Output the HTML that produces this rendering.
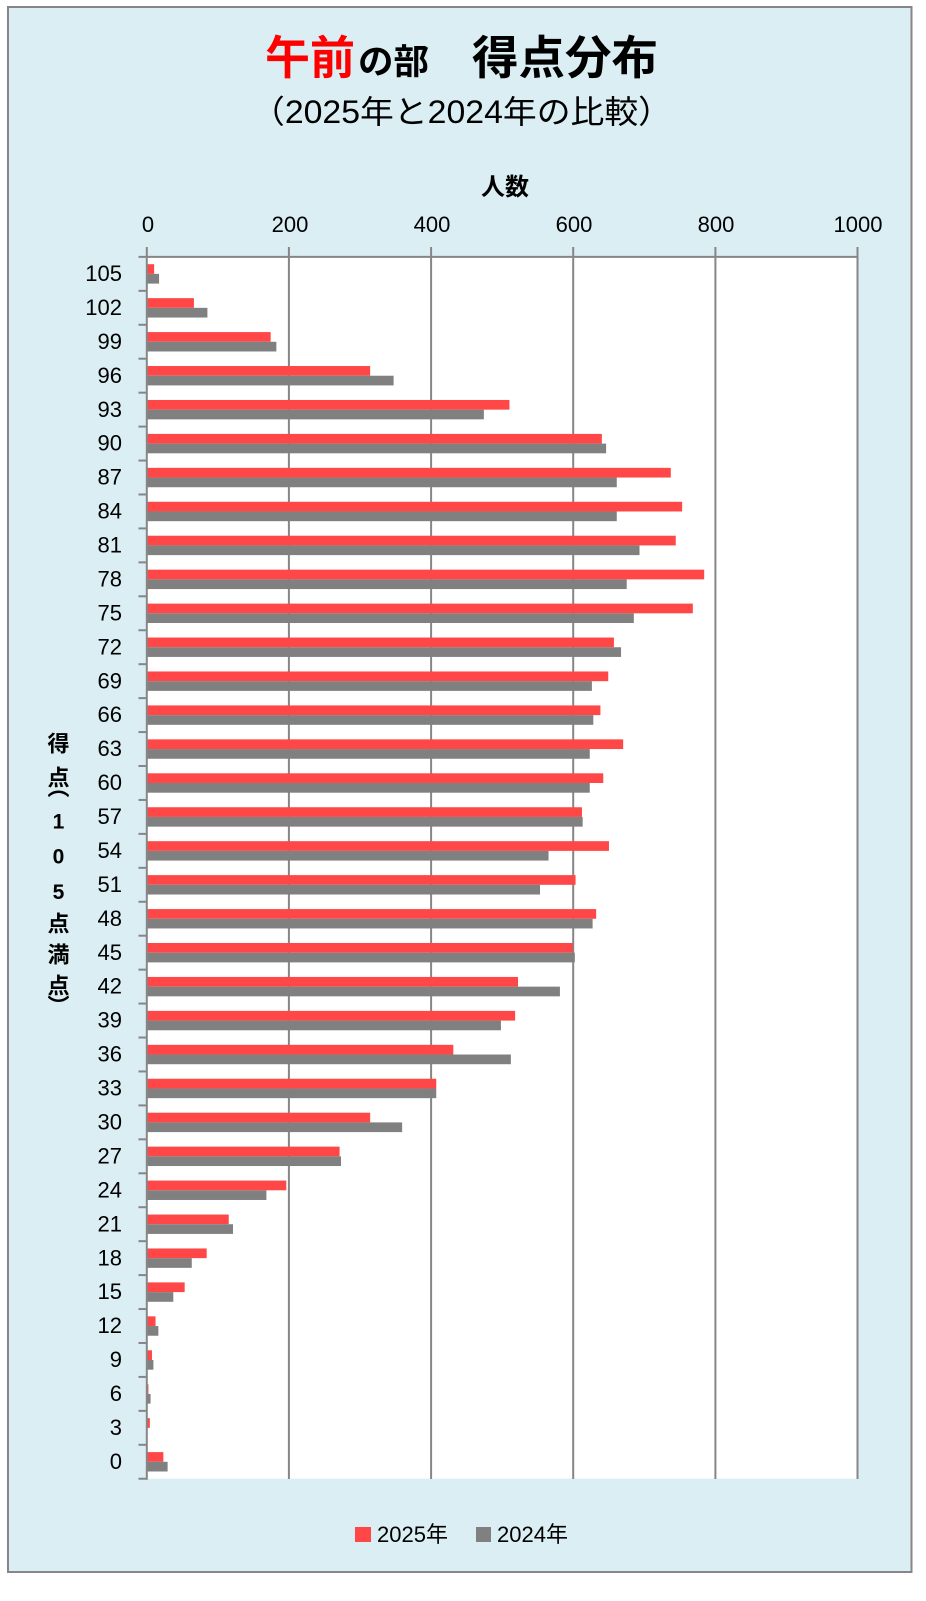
<!DOCTYPE html>
<html>
<head>
<meta charset="utf-8">
<style>
  html, body { margin: 0; padding: 0; background: #ffffff; }
  body { width: 926px; height: 1601px; overflow: hidden; }
  svg { display: block; }
  text { font-family: "Liberation Sans", "Noto Sans CJK JP", sans-serif; fill: #000; }
</style>
</head>
<body>
<svg width="926" height="1601" viewBox="0 0 926 1601" xmlns="http://www.w3.org/2000/svg">
  <!-- outer frame -->
  <rect x="8" y="7" width="903.5" height="1565" fill="#DAEEF3" stroke="#868686" stroke-width="2"/>

  <!-- titles -->
  <text x="265" y="74" font-size="46" font-weight="bold" style="fill:#FF0000" textLength="90" lengthAdjust="spacingAndGlyphs">午前</text>
  <text x="358" y="74" font-size="35" font-weight="bold" textLength="71" lengthAdjust="spacingAndGlyphs">の部</text>
  <text x="472" y="74" font-size="46" font-weight="bold" textLength="186" lengthAdjust="spacingAndGlyphs">得点分布</text>
  <text x="251" y="123" font-size="32" textLength="421" lengthAdjust="spacingAndGlyphs">（2025年と2024年の比較）</text>

  <!-- x axis title -->
  <text x="505" y="195" font-size="24" font-weight="bold" text-anchor="middle">人数</text>

  <!-- tick labels -->
  <g font-size="22" text-anchor="middle">
    <text x="148" y="232">0</text>
    <text x="290" y="232">200</text>
    <text x="432" y="232">400</text>
    <text x="574" y="232">600</text>
    <text x="716" y="232">800</text>
    <text x="858" y="232">1000</text>
  </g>

  <!-- plot area -->
  <rect x="146.8" y="256.9" width="710.7" height="1221.8" fill="#ffffff"/>

  <!-- gridlines -->
  <g stroke="#868686" stroke-width="2">
    <line x1="288.9" y1="247" x2="288.9" y2="1479"/>
    <line x1="431.1" y1="247" x2="431.1" y2="1479"/>
    <line x1="573.2" y1="247" x2="573.2" y2="1479"/>
    <line x1="715.4" y1="247" x2="715.4" y2="1479"/>
    <line x1="857.5" y1="247" x2="857.5" y2="1479"/>
  </g>

  <!-- bars + category labels -->
  <g font-size="22" text-anchor="end">
    <g transform="translate(0,256.9)"><rect x="147" y="7.3" width="7.11" height="9.7" fill="#FF4747"/><rect x="147" y="17" width="12.08" height="9.7" fill="#808080"/><text x="122" y="24.1">105</text></g>
    <g transform="translate(0,290.84)"><rect x="147" y="7.3" width="46.91" height="9.7" fill="#FF4747"/><rect x="147" y="17" width="60.41" height="9.7" fill="#808080"/><text x="122" y="24.1">102</text></g>
    <g transform="translate(0,324.78)"><rect x="147" y="7.3" width="123.66" height="9.7" fill="#FF4747"/><rect x="147" y="17" width="129.35" height="9.7" fill="#808080"/><text x="122" y="24.1">99</text></g>
    <g transform="translate(0,358.72)"><rect x="147" y="7.3" width="223.16" height="9.7" fill="#FF4747"/><rect x="147" y="17" width="246.61" height="9.7" fill="#808080"/><text x="122" y="24.1">96</text></g>
    <g transform="translate(0,392.66)"><rect x="147" y="7.3" width="362.46" height="9.7" fill="#FF4747"/><rect x="147" y="17" width="336.87" height="9.7" fill="#808080"/><text x="122" y="24.1">93</text></g>
    <g transform="translate(0,426.6)"><rect x="147" y="7.3" width="454.85" height="9.7" fill="#FF4747"/><rect x="147" y="17" width="459.11" height="9.7" fill="#808080"/><text x="122" y="24.1">90</text></g>
    <g transform="translate(0,460.54)"><rect x="147" y="7.3" width="523.79" height="9.7" fill="#FF4747"/><rect x="147" y="17" width="469.77" height="9.7" fill="#808080"/><text x="122" y="24.1">87</text></g>
    <g transform="translate(0,494.48)"><rect x="147" y="7.3" width="535.16" height="9.7" fill="#FF4747"/><rect x="147" y="17" width="469.77" height="9.7" fill="#808080"/><text x="122" y="24.1">84</text></g>
    <g transform="translate(0,528.42)"><rect x="147" y="7.3" width="528.76" height="9.7" fill="#FF4747"/><rect x="147" y="17" width="492.52" height="9.7" fill="#808080"/><text x="122" y="24.1">81</text></g>
    <g transform="translate(0,562.36)"><rect x="147" y="7.3" width="557.19" height="9.7" fill="#FF4747"/><rect x="147" y="17" width="479.72" height="9.7" fill="#808080"/><text x="122" y="24.1">78</text></g>
    <g transform="translate(0,596.3)"><rect x="147" y="7.3" width="545.82" height="9.7" fill="#FF4747"/><rect x="147" y="17" width="486.83" height="9.7" fill="#808080"/><text x="122" y="24.1">75</text></g>
    <g transform="translate(0,630.24)"><rect x="147" y="7.3" width="466.93" height="9.7" fill="#FF4747"/><rect x="147" y="17" width="474.04" height="9.7" fill="#808080"/><text x="122" y="24.1">72</text></g>
    <g transform="translate(0,664.18)"><rect x="147" y="7.3" width="461.24" height="9.7" fill="#FF4747"/><rect x="147" y="17" width="444.90" height="9.7" fill="#808080"/><text x="122" y="24.1">69</text></g>
    <g transform="translate(0,698.12)"><rect x="147" y="7.3" width="453.43" height="9.7" fill="#FF4747"/><rect x="147" y="17" width="446.32" height="9.7" fill="#808080"/><text x="122" y="24.1">66</text></g>
    <g transform="translate(0,732.06)"><rect x="147" y="7.3" width="476.17" height="9.7" fill="#FF4747"/><rect x="147" y="17" width="442.77" height="9.7" fill="#808080"/><text x="122" y="24.1">63</text></g>
    <g transform="translate(0,766.0)"><rect x="147" y="7.3" width="456.27" height="9.7" fill="#FF4747"/><rect x="147" y="17" width="442.77" height="9.7" fill="#808080"/><text x="122" y="24.1">60</text></g>
    <g transform="translate(0,799.94)"><rect x="147" y="7.3" width="434.95" height="9.7" fill="#FF4747"/><rect x="147" y="17" width="435.66" height="9.7" fill="#808080"/><text x="122" y="24.1">57</text></g>
    <g transform="translate(0,833.88)"><rect x="147" y="7.3" width="461.96" height="9.7" fill="#FF4747"/><rect x="147" y="17" width="401.55" height="9.7" fill="#808080"/><text x="122" y="24.1">54</text></g>
    <g transform="translate(0,867.82)"><rect x="147" y="7.3" width="428.55" height="9.7" fill="#FF4747"/><rect x="147" y="17" width="393.02" height="9.7" fill="#808080"/><text x="122" y="24.1">51</text></g>
    <g transform="translate(0,901.76)"><rect x="147" y="7.3" width="449.16" height="9.7" fill="#FF4747"/><rect x="147" y="17" width="445.61" height="9.7" fill="#808080"/><text x="122" y="24.1">48</text></g>
    <g transform="translate(0,935.7)"><rect x="147" y="7.3" width="425.71" height="9.7" fill="#FF4747"/><rect x="147" y="17" width="427.84" height="9.7" fill="#808080"/><text x="122" y="24.1">45</text></g>
    <g transform="translate(0,969.64)"><rect x="147" y="7.3" width="370.99" height="9.7" fill="#FF4747"/><rect x="147" y="17" width="412.92" height="9.7" fill="#808080"/><text x="122" y="24.1">42</text></g>
    <g transform="translate(0,1003.58)"><rect x="147" y="7.3" width="368.14" height="9.7" fill="#FF4747"/><rect x="147" y="17" width="353.93" height="9.7" fill="#808080"/><text x="122" y="24.1">39</text></g>
    <g transform="translate(0,1037.52)"><rect x="147" y="7.3" width="306.31" height="9.7" fill="#FF4747"/><rect x="147" y="17" width="363.88" height="9.7" fill="#808080"/><text x="122" y="24.1">36</text></g>
    <g transform="translate(0,1071.46)"><rect x="147" y="7.3" width="289.25" height="9.7" fill="#FF4747"/><rect x="147" y="17" width="289.25" height="9.7" fill="#808080"/><text x="122" y="24.1">33</text></g>
    <g transform="translate(0,1105.4)"><rect x="147" y="7.3" width="223.16" height="9.7" fill="#FF4747"/><rect x="147" y="17" width="255.14" height="9.7" fill="#808080"/><text x="122" y="24.1">30</text></g>
    <g transform="translate(0,1139.34)"><rect x="147" y="7.3" width="192.60" height="9.7" fill="#FF4747"/><rect x="147" y="17" width="194.02" height="9.7" fill="#808080"/><text x="122" y="24.1">27</text></g>
    <g transform="translate(0,1173.28)"><rect x="147" y="7.3" width="139.30" height="9.7" fill="#FF4747"/><rect x="147" y="17" width="119.40" height="9.7" fill="#808080"/><text x="122" y="24.1">24</text></g>
    <g transform="translate(0,1207.22)"><rect x="147" y="7.3" width="81.73" height="9.7" fill="#FF4747"/><rect x="147" y="17" width="86.00" height="9.7" fill="#808080"/><text x="122" y="24.1">21</text></g>
    <g transform="translate(0,1241.16)"><rect x="147" y="7.3" width="59.70" height="9.7" fill="#FF4747"/><rect x="147" y="17" width="44.77" height="9.7" fill="#808080"/><text x="122" y="24.1">18</text></g>
    <g transform="translate(0,1275.1)"><rect x="147" y="7.3" width="37.67" height="9.7" fill="#FF4747"/><rect x="147" y="17" width="26.30" height="9.7" fill="#808080"/><text x="122" y="24.1">15</text></g>
    <g transform="translate(0,1309.04)"><rect x="147" y="7.3" width="8.53" height="9.7" fill="#FF4747"/><rect x="147" y="17" width="11.37" height="9.7" fill="#808080"/><text x="122" y="24.1">12</text></g>
    <g transform="translate(0,1342.98)"><rect x="147" y="7.3" width="4.97" height="9.7" fill="#FF4747"/><rect x="147" y="17" width="6.40" height="9.7" fill="#808080"/><text x="122" y="24.1">9</text></g>
    <g transform="translate(0,1376.92)"><rect x="147" y="7.3" width="1.42" height="9.7" fill="#FF4747"/><rect x="147" y="17" width="3.55" height="9.7" fill="#808080"/><text x="122" y="24.1">6</text></g>
    <g transform="translate(0,1410.86)"><rect x="147" y="7.3" width="2.84" height="9.7" fill="#FF4747"/><text x="122" y="24.1">3</text></g>
    <g transform="translate(0,1444.8)"><rect x="147" y="7.3" width="16.35" height="9.7" fill="#FF4747"/><rect x="147" y="17" width="20.61" height="9.7" fill="#808080"/><text x="122" y="24.1">0</text></g>
  </g>

  <!-- axes -->
  <g stroke="#868686" stroke-width="2">
    <line x1="138.5" y1="256.9" x2="858.5" y2="256.9"/>
    <line x1="146.8" y1="247" x2="146.8" y2="1479.7"/>
    <line x1="138.5" y1="290.84" x2="146.8" y2="290.84"/>
    <line x1="138.5" y1="324.78" x2="146.8" y2="324.78"/>
    <line x1="138.5" y1="358.72" x2="146.8" y2="358.72"/>
    <line x1="138.5" y1="392.66" x2="146.8" y2="392.66"/>
    <line x1="138.5" y1="426.6" x2="146.8" y2="426.6"/>
    <line x1="138.5" y1="460.54" x2="146.8" y2="460.54"/>
    <line x1="138.5" y1="494.48" x2="146.8" y2="494.48"/>
    <line x1="138.5" y1="528.42" x2="146.8" y2="528.42"/>
    <line x1="138.5" y1="562.36" x2="146.8" y2="562.36"/>
    <line x1="138.5" y1="596.3" x2="146.8" y2="596.3"/>
    <line x1="138.5" y1="630.24" x2="146.8" y2="630.24"/>
    <line x1="138.5" y1="664.18" x2="146.8" y2="664.18"/>
    <line x1="138.5" y1="698.12" x2="146.8" y2="698.12"/>
    <line x1="138.5" y1="732.06" x2="146.8" y2="732.06"/>
    <line x1="138.5" y1="766.0" x2="146.8" y2="766.0"/>
    <line x1="138.5" y1="799.94" x2="146.8" y2="799.94"/>
    <line x1="138.5" y1="833.88" x2="146.8" y2="833.88"/>
    <line x1="138.5" y1="867.82" x2="146.8" y2="867.82"/>
    <line x1="138.5" y1="901.76" x2="146.8" y2="901.76"/>
    <line x1="138.5" y1="935.7" x2="146.8" y2="935.7"/>
    <line x1="138.5" y1="969.64" x2="146.8" y2="969.64"/>
    <line x1="138.5" y1="1003.58" x2="146.8" y2="1003.58"/>
    <line x1="138.5" y1="1037.52" x2="146.8" y2="1037.52"/>
    <line x1="138.5" y1="1071.46" x2="146.8" y2="1071.46"/>
    <line x1="138.5" y1="1105.4" x2="146.8" y2="1105.4"/>
    <line x1="138.5" y1="1139.34" x2="146.8" y2="1139.34"/>
    <line x1="138.5" y1="1173.28" x2="146.8" y2="1173.28"/>
    <line x1="138.5" y1="1207.22" x2="146.8" y2="1207.22"/>
    <line x1="138.5" y1="1241.16" x2="146.8" y2="1241.16"/>
    <line x1="138.5" y1="1275.1" x2="146.8" y2="1275.1"/>
    <line x1="138.5" y1="1309.04" x2="146.8" y2="1309.04"/>
    <line x1="138.5" y1="1342.98" x2="146.8" y2="1342.98"/>
    <line x1="138.5" y1="1376.92" x2="146.8" y2="1376.92"/>
    <line x1="138.5" y1="1410.86" x2="146.8" y2="1410.86"/>
    <line x1="138.5" y1="1444.8" x2="146.8" y2="1444.8"/>
    <line x1="138.5" y1="1478.74" x2="146.8" y2="1478.74"/>
  </g>

  <!-- y axis title (vertical) -->
  <g font-weight="bold" text-anchor="middle">
    <text x="58.5" y="751.4" font-size="22">得</text>
    <text x="58.5" y="785.4" font-size="22">点</text>
    <text x="58.5" y="795.3" font-size="22">︵</text>
    <text x="58.5" y="828.5" font-size="21">1</text>
    <text x="58.5" y="863.5" font-size="21">0</text>
    <text x="58.5" y="899" font-size="21">5</text>
    <text x="58.5" y="931.4" font-size="22">点</text>
    <text x="58.5" y="962.4" font-size="22">満</text>
    <text x="58.5" y="993.4" font-size="22">点</text>
    <text x="58.5" y="1014" font-size="22">︶</text>
  </g>

  <!-- legend -->
  <rect x="355" y="1527" width="16" height="15" fill="#FF4747"/>
  <text x="377" y="1542" font-size="22">2025年</text>
  <rect x="476" y="1527" width="15" height="15" fill="#808080"/>
  <text x="497" y="1542" font-size="22">2024年</text>
</svg>
</body>
</html>
